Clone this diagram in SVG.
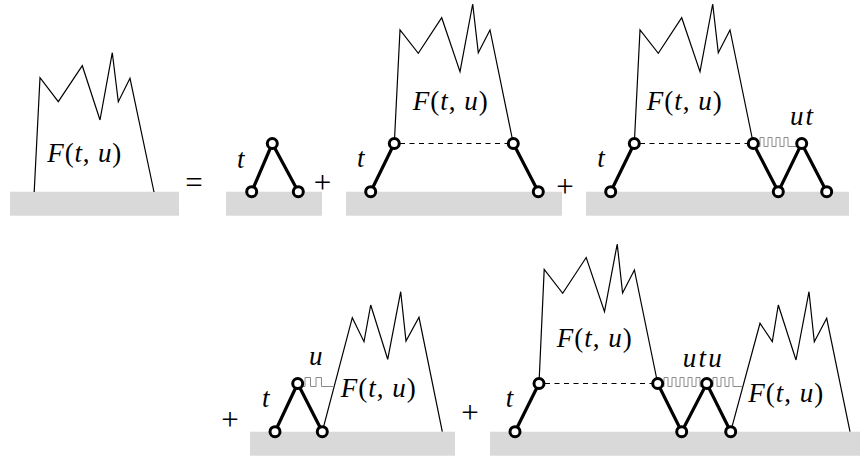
<svg xmlns="http://www.w3.org/2000/svg" width="866" height="459" viewBox="0 0 866 459">
<style>
.base{fill:#d9d9d9;stroke:none}
.mt{fill:none;stroke:#000;stroke-width:1.2;stroke-linejoin:miter}
.edge{stroke:#000;stroke-width:3.2;stroke-linecap:round;fill:none}
.dash{stroke:#000;stroke-width:1;stroke-dasharray:5 4.5;fill:none}
.wave{stroke:#8a8a8a;stroke-width:1;fill:none}
.nd{fill:#fff;stroke:#000;stroke-width:3}
.m{font-family:"Liberation Serif","Times New Roman",serif;font-size:27px;fill:#000}
.i{font-style:italic}
.op{font-family:"Liberation Serif","Times New Roman",serif;font-size:31px;fill:#000;text-anchor:middle}
</style>
<rect width="866" height="459" fill="#fff"/>

<g id="panel1">
<rect class="base" x="10" y="191.7" width="169" height="24"/>
<path class="mt" d="M34.2,192 L40,77.7 L58.3,101.7 L82.3,65.7 L100,120 L112.3,52.7 L118.3,101.7 L130,78.3 L154,192"/>
<text class="m" x="47.3" y="161.7" textLength="74" lengthAdjust="spacing"><tspan class="i">F</tspan>(<tspan class="i">t</tspan>, <tspan class="i">u</tspan>)</text>
<text class="op" x="194" y="193">=</text>
</g>

<g id="panel2">
<rect class="base" x="226" y="191.7" width="96" height="24"/>
<text class="m i" x="237" y="168">t</text>
<text class="op" x="322.5" y="193">+</text>
</g>

<g id="panel3">
<rect class="base" x="346" y="191.7" width="216" height="24"/>
<path class="mt" d="M394.3,143.5 L400,30 L418.3,53.3 L441.7,17.7 L460,71.7 L472.7,4 L478.3,52.7 L490,30 L513.3,143.5"/>
<text class="m" x="412.7" y="109.5" textLength="75" lengthAdjust="spacing"><tspan class="i">F</tspan>(<tspan class="i">t</tspan>, <tspan class="i">u</tspan>)</text>
<text class="m i" x="357" y="167">t</text>
<text class="op" x="565" y="197">+</text>
</g>

<g id="panel4">
<rect class="base" x="586" y="191.7" width="263" height="24"/>
<path class="mt" d="M634.3,143.5 L640,30 L658.3,53.3 L681.7,17.7 L700,71.7 L712.7,4 L718.3,52.7 L730,30 L753.3,143.5"/>
<text class="m" x="646.7" y="109.5" textLength="75" lengthAdjust="spacing"><tspan class="i">F</tspan>(<tspan class="i">t</tspan>, <tspan class="i">u</tspan>)</text>
<text class="m i" x="597.3" y="167">t</text>
<text class="m i" x="790" y="125" textLength="23" lengthAdjust="spacing">ut</text>
</g>

<g id="panel5">
<text class="op" x="230" y="429.5">+</text>
<rect class="base" x="250" y="431.7" width="205" height="24"/>
<path class="mt" d="M322.3,431.7 L352.3,317.7 L364,341.7 L370.7,305 L387.7,359.3 L400.7,291.7 L406,341 L419,317.3 L442.3,431.7"/>
<text class="m" x="340.7" y="396.7" textLength="75" lengthAdjust="spacing"><tspan class="i">F</tspan>(<tspan class="i">t</tspan>, <tspan class="i">u</tspan>)</text>
<text class="m i" x="262" y="406.5">t</text>
<text class="m i" x="309" y="365">u</text>
</g>

<g id="panel6">
<text class="op" x="470" y="423">+</text>
<rect class="base" x="490" y="431.7" width="370" height="24"/>
<path class="mt" d="M539,383.5 L544.2,269.5 L562.7,293.3 L586.2,257.5 L604.5,311.7 L617.2,244 L622.6,293 L634.4,270 L657.7,383.5"/>
<path class="mt" d="M730.7,431.7 L760,323.3 L772.3,341.7 L778.3,305 L796,360 L809,291.7 L814.3,341.7 L826.7,318.3 L850,431.7"/>
<text class="m" x="556.7" y="347" textLength="75" lengthAdjust="spacing"><tspan class="i">F</tspan>(<tspan class="i">t</tspan>, <tspan class="i">u</tspan>)</text>
<text class="m" x="748.3" y="401.7" textLength="75" lengthAdjust="spacing"><tspan class="i">F</tspan>(<tspan class="i">t</tspan>, <tspan class="i">u</tspan>)</text>
<text class="m i" x="505.7" y="406.5">t</text>
<text class="m i" x="682.7" y="366.7" textLength="39" lengthAdjust="spacing">utu</text>
</g>

<g id="connectors">
<path class="dash" d="M400,143.5 H508"/>
<path class="dash" d="M640,143.5 H748"/>
<path class="dash" d="M545,383.5 H652"/>
<path class="wave" d="M753.3,146.5 H760 V137.5 H764 V146.5 H768 V137.5 H772 V146.5 H776 V137.5 H780 V146.5 H784 V137.5 H788 V146.5 H801.7"/>
<path class="wave" d="M297.7,386.5 H305 V377.5 H310.5 V386.5 H316 V377.5 H321.5 V386.5 H334.2"/>
<path class="wave" d="M657.7,386.5 H664 V377.5 H668 V386.5 H672 V377.5 H676 V386.5 H680 V377.5 H684 V386.5 H688 V377.5 H692 V386.5 H696 V377.5 H700 V386.5 H713 V377.5 H717 V386.5 H721 V377.5 H725 V386.5 H729 V377.5 H733 V386.5 H742.3"/>
<path class="edge" d="M251.7,191.7 L272.3,143.5 L298.3,191.7"/>
<path class="edge" d="M370.7,191.7 L394.3,143.5"/>
<path class="edge" d="M513.3,143.5 L538.3,191.7"/>
<path class="edge" d="M610.7,191.7 L634.3,143.5"/>
<path class="edge" d="M753.3,143.5 L778.3,191.7 L801.7,143.5 L826.7,191.7"/>
<path class="edge" d="M275,431.7 L297.7,383.5 L322.3,431.7"/>
<path class="edge" d="M515,431.7 L539,383.5"/>
<path class="edge" d="M657.7,383.5 L681.7,431.7 L706.7,383.5 L730.7,431.7"/>
</g>

<g id="n2a"><circle class="nd" cx="251.7" cy="191.7" r="5"/></g>
<g id="n2b"><circle class="nd" cx="272.3" cy="143.5" r="5"/></g>
<g id="n2c"><circle class="nd" cx="298.3" cy="191.7" r="5"/></g>
<g id="n3a"><circle class="nd" cx="370.7" cy="191.7" r="5"/></g>
<g id="n3b"><circle class="nd" cx="394.3" cy="143.5" r="5"/></g>
<g id="n3c"><circle class="nd" cx="513.3" cy="143.5" r="5"/></g>
<g id="n3d"><circle class="nd" cx="538.3" cy="191.7" r="5"/></g>
<g id="n4a"><circle class="nd" cx="610.7" cy="191.7" r="5"/></g>
<g id="n4b"><circle class="nd" cx="634.3" cy="143.5" r="5"/></g>
<g id="n4c"><circle class="nd" cx="753.3" cy="143.5" r="5"/></g>
<g id="n4d"><circle class="nd" cx="778.3" cy="191.7" r="5"/></g>
<g id="n4e"><circle class="nd" cx="801.7" cy="143.5" r="5"/></g>
<g id="n4f"><circle class="nd" cx="826.7" cy="191.7" r="5"/></g>
<g id="n5a"><circle class="nd" cx="275" cy="431.7" r="5"/></g>
<g id="n5b"><circle class="nd" cx="297.7" cy="383.5" r="5"/></g>
<g id="n5c"><circle class="nd" cx="322.3" cy="431.7" r="5"/></g>
<g id="n6a"><circle class="nd" cx="515" cy="431.7" r="5"/></g>
<g id="n6b"><circle class="nd" cx="539" cy="383.5" r="5"/></g>
<g id="n6c"><circle class="nd" cx="657.7" cy="383.5" r="5"/></g>
<g id="n6d"><circle class="nd" cx="681.7" cy="431.7" r="5"/></g>
<g id="n6e"><circle class="nd" cx="706.7" cy="383.5" r="5"/></g>
<g id="n6f"><circle class="nd" cx="730.7" cy="431.7" r="5"/></g>
</svg>
